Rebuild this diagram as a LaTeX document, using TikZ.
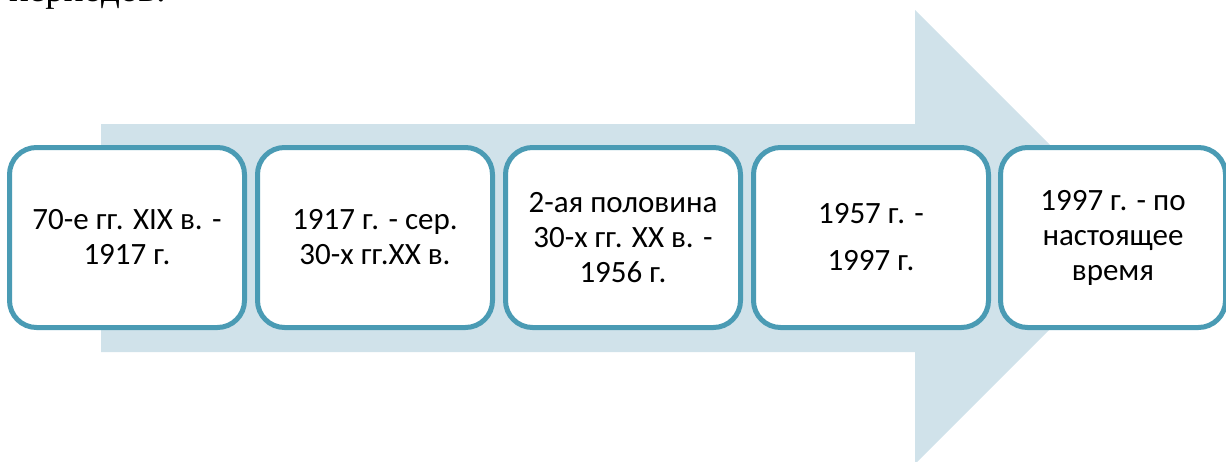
\documentclass[tikz,border=0pt]{standalone}
\usepackage{fontspec}
\setmainfont{Carlito}
\newfontfamily\serifru{Liberation Serif}
\definecolor{arrowfill}{RGB}{208,226,234}
\definecolor{boxline}{RGB}{74,155,180}
\tikzset{
  period/.style={draw=boxline, line width=5pt, fill=white, rounded corners=27pt,
    minimum width=235pt, minimum height=180pt, inner sep=0pt, align=center,
    font=\fontsize{31}{35}\selectfont, text=black},
}
\begin{document}
\begin{tikzpicture}[x=1pt,y=-1pt]
\useasboundingbox (0,0) rectangle (1226,461);
\node[anchor=base west, inner sep=0pt, font=\serifru\fontsize{37}{40}\selectfont] (title) at (9,1) {периодов:};
\fill[arrowfill] (101,124) -- (915,124) -- (915,10) -- (1142,237) -- (915,464) -- (915,352) -- (101,352) -- cycle;
\node[period] (p1) at (127,237.5) {70-е гг. XIX в. -\\1917 г.};
\node[period] (p2) at (375,237.5) {1917 г. - сер.\\30-х гг.ХХ в.};
\node[period] (p3) at (623,237.5) {2-ая половина\\30-х гг. ХХ в. -\\1956 г.};
\node[period] (p4) at (871,237.5) {1957 г. -\\[12pt]1997 г.};
\node[period, minimum width=225pt] (p5) at (1113,237.5) {1997 г. - по\\настоящее\\время};
\end{tikzpicture}
\end{document}
